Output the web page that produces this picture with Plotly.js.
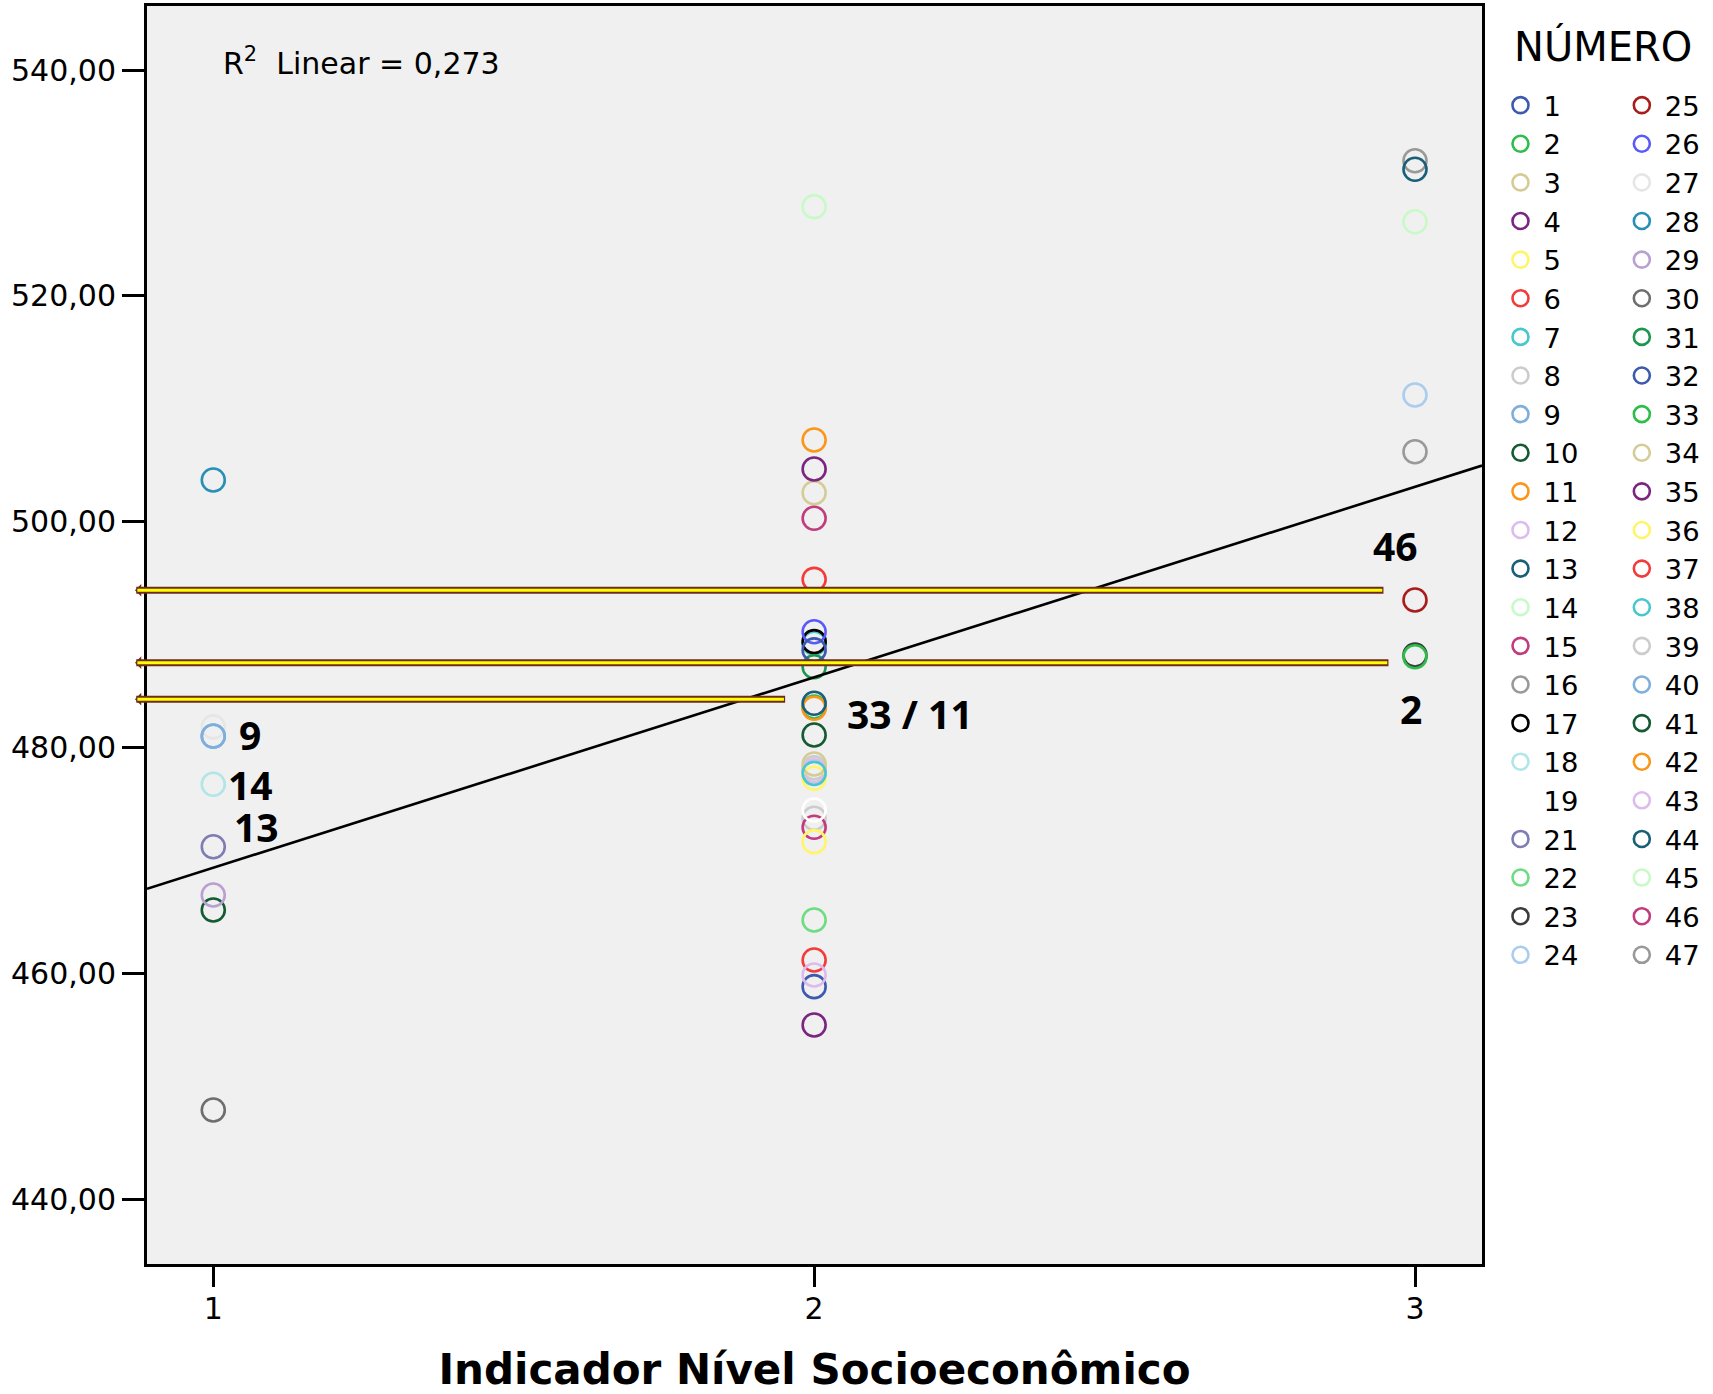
<!DOCTYPE html>
<html><head><meta charset="utf-8">
<script src="https://cdn.plot.ly/plotly-3.0.1.min.js"></script>
<style>html,body{margin:0;padding:0;background:#fff;}</style>
</head><body><div id="chart" style="width:1713px;height:1394px;"></div>
<script>
// ---- data ----
const numeros = [1,2,3,4,5,6,7,8,9,10,11,12,13,14,15,16,17,18,19,21,22,23,24,
                 25,26,27,28,29,30,31,32,33,34,35,36,37,38,39,40,41,42,43,44,45,46,47];
const nivel = [2,3,2,2,2,2,2,2,1,1,2,2,3,3,2,3,2,1,2,1,2,3,3,
               3,2,1,1,1,1,2,2,2,2,2,2,2,2,2,1,2,2,2,2,2,2,3];
const desempenho = [458.83,488.05,502.57,455.44,477.28,494.90,489.24,473.74,481.03,465.62,483.48,477.95,531.21,526.57,472.94,531.97,489.38,476.75,474.47,471.22,464.73,488.20,511.22,
                    493.07,490.26,481.83,503.70,466.95,447.91,487.16,488.65,483.60,478.55,504.67,471.67,461.19,477.72,478.20,481.00,481.12,507.24,459.86,483.92,527.90,500.31,506.20];
const cores = ['#3C5AAE','#2DBE4A','#D4CC96','#7A2580','#FFF56A','#F23C3C','#48C8CC','#CCCCCC','#7DAEDC','#145A32','#FA9619','#DDBBEE','#1A5F78','#C8FAC8','#C03C7D','#999999','#000000','#B0E6E6','#FFFFFF','#7D7DB4','#6EDC82','#3C3C3C','#AACDEE',
               '#A81C1C','#5A5AFA','#E6E6E6','#2890B4','#B9A0D2','#6E6E6E','#1E9650','#3C5AAE','#2DBE4A','#D4CC96','#7A2580','#FFF56A','#F23C3C','#48C8CC','#CCCCCC','#7DAEDC','#145A32','#FA9619','#DDBBEE','#1A5F78','#C8FAC8','#C03C7D','#999999'];
const ocultos = [16,23,27,33,39,40];   // points that sit behind others
const rotulosTexto = ['9','14','13','33 / 11','46','2'];
const rotulosX = [1.0603,1.0619,1.0712,2.1588,2.9669,2.9935];
const rotulosY = [481.12,476.69,472.97,483.06,497.94,483.50];
const setasY = [493.93,487.52,484.29];
const setasFimX = [2.950,2.9583,1.9542];
const setaInicioX = 0.8697;
const r2Texto = 'R<sup>2</sup>\u00a0 Linear = 0,273';
const tituloLegenda = 'NÚMERO';
const tituloX = 'Indicador Nível Socioeconômico';
const xTicks = [1,2,3];
const xRange = [0.8897,3.1115];
const yRange = [434.27,545.67];

// ---- traces ----
const ordem = numeros.map((n,i)=>i).sort((a,b)=>{
  const ha = ocultos.includes(numeros[a]) ? 0 : 1;
  const hb = ocultos.includes(numeros[b]) ? 0 : 1;
  return ha - hb || a - b;
});
const traces = ordem.map(i => ({
  type:'scatter', mode:'markers',
  x:[nivel[i]], y:[desempenho[i]],
  name:String(numeros[i]),
  legend: i < 23 ? 'legend' : 'legend2',
  legendrank: numeros[i],
  marker:{symbol:'circle-open', size:23, color:cores[i], line:{width:2.6, color:cores[i]}},
  hoverinfo:'x+y+name'
}));

// linear fit (OLS) computed from the data
const n = desempenho.length;
const mx = nivel.reduce((s,v)=>s+v,0)/n;
const my = desempenho.reduce((s,v)=>s+v,0)/n;
let sxy=0, sxx=0;
for(let i=0;i<n;i++){ sxy += (nivel[i]-mx)*(desempenho[i]-my); sxx += (nivel[i]-mx)**2; }
const b = sxy/sxx, a = my - b*mx;
traces.push({type:'scatter', mode:'lines', x:xRange, y:xRange.map(v=>a+b*v),
  line:{color:'#000', width:2.6}, showlegend:false, hoverinfo:'skip'});

// ---- annotations ----
const anns = [];
setasY.forEach((y,i)=>{
  anns.push({x:setaInicioX, y:y, ax:setasFimX[i], ay:y, xref:'x', yref:'y', axref:'x', ayref:'y',
    text:'', showarrow:true, arrowhead:1, arrowsize:0.3, arrowwidth:7, arrowcolor:'#6E2C1E'});
  anns.push({x:setaInicioX+0.004, y:y, ax:setasFimX[i]-0.002, ay:y, xref:'x', yref:'y', axref:'x', ayref:'y',
    text:'', showarrow:true, arrowhead:0, arrowwidth:3, arrowcolor:'#FFFF00'});
});
rotulosTexto.forEach((t,i)=>{
  anns.push({x:rotulosX[i], y:rotulosY[i], xref:'x', yref:'y', text:t, showarrow:false,
    xanchor:'center', yanchor:'middle',
    font:{family:'Noto Sans', size:39, weight:'bold', color:'#000'}});
});
anns.push({x:0.0554, y:0.9555, xref:'paper', yref:'paper', text:r2Texto, showarrow:false,
  xanchor:'left', yanchor:'middle', font:{family:'DejaVu Sans', size:30, color:'#000'}});
anns.push({x:1.0906, y:0.9677, xref:'paper', yref:'paper', text:tituloLegenda, showarrow:false,
  xanchor:'center', yanchor:'middle', font:{family:'DejaVu Sans', size:40, color:'#000'}});

const legendBase = {yanchor:'top', xanchor:'left', y:0.9405, bgcolor:'rgba(0,0,0,0)',
  font:{family:'DejaVu Sans', size:27.4, color:'#000'}, itemwidth:36, tracegroupgap:0};

const layout = {
  width:1713, height:1394, autosize:false,
  margin:{l:147, r:231, t:6, b:130, pad:0},
  paper_bgcolor:'#FFFFFF', plot_bgcolor:'#F0F0F0',
  font:{family:'DejaVu Sans', color:'#000'},
  separators:',.',
  showlegend:true,
  xaxis:{range:xRange, tickvals:xTicks, ticktext:xTicks.map(String), showgrid:false, zeroline:false,
    showline:true, mirror:true, linecolor:'#000', linewidth:3,
    ticks:'outside', ticklen:20, tickwidth:3, tickcolor:'#000', ticklabelstandoff:-4,
    tickfont:{family:'DejaVu Sans', size:30, color:'#000'},
    title:{text:tituloX, font:{family:'DejaVu Sans', size:42, weight:'bold', color:'#000'}}},
  yaxis:{range:yRange, tick0:440, dtick:20, tickformat:'.2f', showgrid:false, zeroline:false,
    showline:true, mirror:true, linecolor:'#000', linewidth:3,
    ticks:'outside', ticklen:22, tickwidth:3, tickcolor:'#000',
    tickfont:{family:'DejaVu Sans', size:30, color:'#000'}},
  legend:Object.assign({}, legendBase, {x:1.0116}),
  legend2:Object.assign({}, legendBase, {x:1.1025}),
  annotations:anns
};

Plotly.newPlot('chart', traces, layout, {displayModeBar:false, responsive:false});
</script>
</body></html>
